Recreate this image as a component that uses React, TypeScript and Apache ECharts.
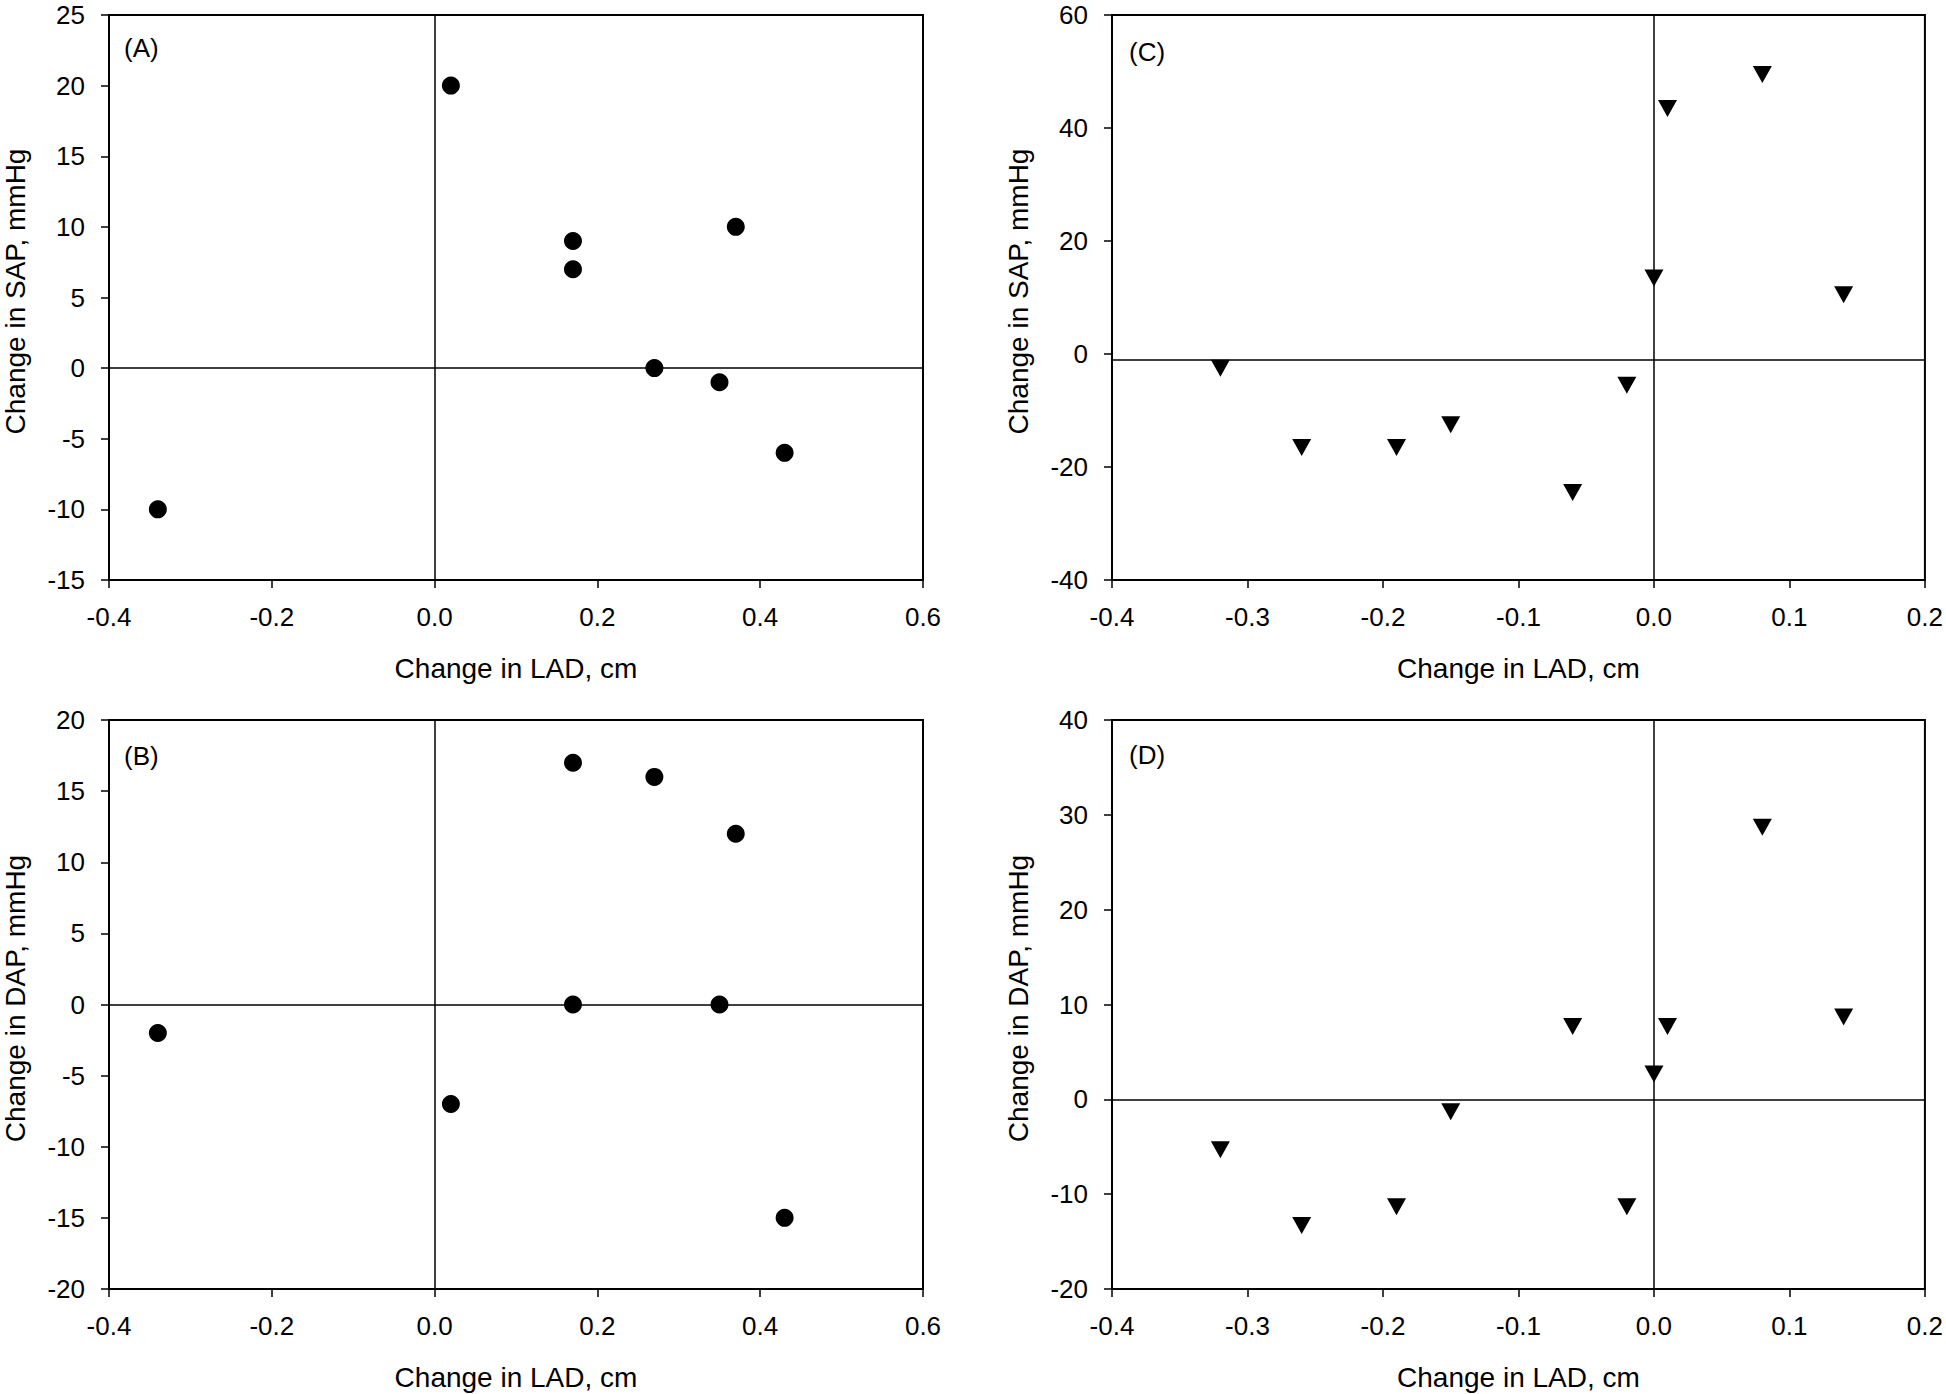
import React, { useEffect, useRef } from "react";
import * as echarts from "echarts";

// ---- data ----
const panelLabels = ["(A)", "(B)", "(C)", "(D)"];
const xTitle = "Change in LAD, cm";
const yTitles = [
  "Change in SAP, mmHg",
  "Change in DAP, mmHg",
  "Change in SAP, mmHg",
  "Change in DAP, mmHg",
];

// Left panels (A, B): circles
const ladLeft = [-0.34, 0.02, 0.17, 0.17, 0.27, 0.37, 0.35, 0.43];
const sapLeft = [-10, 20, 9, 7, 0, 10, -1, -6];
const dapLeft = [-2, -7, 17, 0, 16, 12, 0, -15];

// Right panels (C, D): triangles
const ladRight = [-0.32, -0.26, -0.19, -0.15, -0.06, -0.02, 0.0, 0.01, 0.08, 0.14];
const sapRight = [-2, -16, -16, -12, -24, -5, 14, 44, 50, 11];
const dapRight = [-5, -13, -11, -1, 8, -11, 3, 8, 29, 9];

// axis ranges [min, max, interval]
const xRanges = [
  [-0.4, 0.6, 0.2],
  [-0.4, 0.6, 0.2],
  [-0.4, 0.2, 0.1],
  [-0.4, 0.2, 0.1],
];
const yRanges = [
  [-15, 25, 5],
  [-20, 20, 5],
  [-40, 60, 20],
  [-20, 40, 10],
];
// reference lines (vertical x, horizontal y)
const refX = [0, 0, 0, 0];
const refY = [0, 0, -1.1, 0];

const FONT = "'Liberation Sans', Arial, Helvetica, sans-serif";

export default function App() {
  const ref = useRef<HTMLDivElement>(null);

  useEffect(() => {
    document.body.style.margin = "0";
    document.body.style.overflow = "hidden";
    if (!ref.current) return;
    const chart = echarts.init(ref.current, undefined, { renderer: "svg" });

    const grids = [
      { left: 107, top: 15, width: 816, height: 565 },
      { left: 107, top: 720, width: 816, height: 569 },
      { left: 1112, top: 15, width: 817, height: 565 },
      { left: 1112, top: 720, width: 817, height: 569 },
    ];

    const fmt1 = (v: number) => (Math.abs(v) < 1e-9 ? "0.0" : v.toFixed(1));

    const xAxes = xRanges.map((r, i) => ({
      type: "value",
      gridIndex: i,
      min: r[0],
      max: r[1],
      interval: r[2],
      name: xTitle,
      nameLocation: "middle",
      nameGap: 74,
      nameTextStyle: { color: "#000", fontSize: 28, fontFamily: FONT },
      axisLine: { onZero: false, lineStyle: { color: "#000", width: 2 } },
      axisTick: { show: true, inside: false, length: 8, lineStyle: { color: "#000", width: 1.5 } },
      axisLabel: { color: "#000", fontSize: 26, fontFamily: FONT, margin: 24, formatter: fmt1 },
      splitLine: { show: false },
    }));

    const yAxes = yRanges.map((r, i) => ({
      type: "value",
      gridIndex: i,
      min: r[0],
      max: r[1],
      interval: r[2],
      name: yTitles[i],
      nameLocation: "middle",
      nameGap: 80,
      nameTextStyle: { color: "#000", fontSize: 28, fontFamily: FONT, padding: [0, 0, 0, 12] },
      axisLine: { onZero: false, lineStyle: { color: "#000", width: 2 } },
      axisTick: { show: true, inside: false, length: 8, lineStyle: { color: "#000", width: 1.5 } },
      axisLabel: { color: "#000", fontSize: 26, lineHeight: 20, fontFamily: FONT, margin: 24 },
      splitLine: { show: false },
    }));

    const pairs = (xs: number[], ys: number[]) => xs.map((x, k) => [x, ys[k]]);
    const seriesData = [
      pairs(ladLeft, sapLeft),
      pairs(ladLeft, dapLeft),
      pairs(ladRight, sapRight),
      pairs(ladRight, dapRight),
    ];

    const series = seriesData.map((d, i) => {
      const isTri = i >= 2;
      return {
        type: "scatter",
        xAxisIndex: i,
        yAxisIndex: i,
        data: d,
        symbol: isTri ? "triangle" : "circle",
        symbolSize: isTri ? [19, 17] : 18,
        symbolRotate: isTri ? 180 : 0,
        symbolOffset: isTri ? [0, 3] : [0, 0],
        itemStyle: { color: "#000", opacity: 1 },
        z: 5,
        markLine: {
          silent: true,
          symbol: "none",
          label: { show: false },
          lineStyle: { color: "#000", width: 1.5, type: "solid", opacity: 1 },
          data: [{ xAxis: refX[i] }, { yAxis: refY[i] }],
        },
      };
    });

    const labelPos = [
      [124, 48],
      [124, 756],
      [1129, 52],
      [1129, 755],
    ];

    chart.setOption({
      animation: false,
      backgroundColor: "#fff",
      grid: grids.map((g) => ({
        ...g,
        show: true,
        borderColor: "#000",
        borderWidth: 2,
        backgroundColor: "transparent",
        containLabel: false,
      })),
      xAxis: xAxes,
      yAxis: yAxes,
      series,
      graphic: panelLabels.map((t, i) => ({
        type: "text",
        x: labelPos[i][0],
        y: labelPos[i][1],
        style: {
          text: t,
          fill: "#000",
          fontSize: 26,
          fontFamily: FONT,
          textAlign: "left",
          textVerticalAlign: "middle",
        },
      })),
    });

    return () => chart.dispose();
  }, []);

  return <div ref={ref} style={{ width: 1946, height: 1394 }} />;
}
